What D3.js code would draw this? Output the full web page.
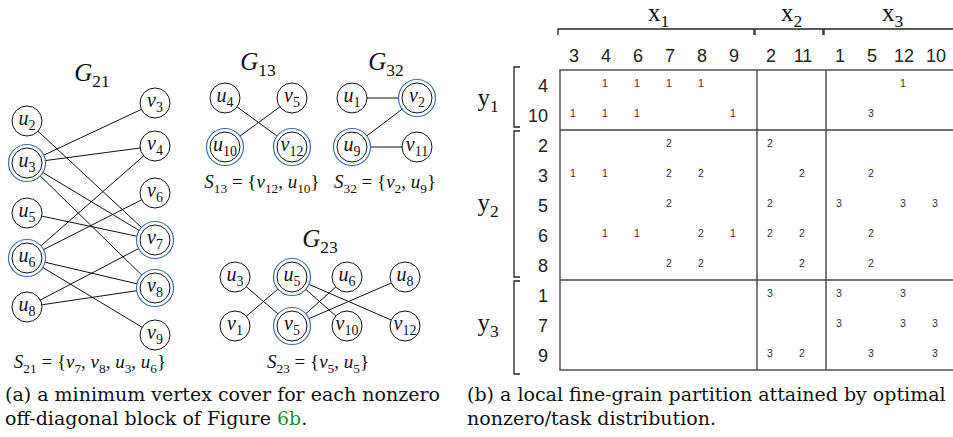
<!DOCTYPE html>
<html>
<head>
<meta charset="utf-8">
<script src="https://cdn.jsdelivr.net/npm/d3@7"></script>
<style>
  body { margin: 0; background: #fff; }
  svg { display: block; }
</style>
</head>
<body>
<svg id="fig" width="953" height="437"></svg>
<script>
// ---- partitioned matrix: row blocks y1..y3, column blocks x1..x3 ----
const rowBlockNames = ['1', '2', '3'];
const rowsY1 = [4, 10];
const rowsY2 = [2, 3, 5, 6, 8];
const rowsY3 = [1, 7, 9];
const colBlockNames = ['1', '2', '3'];
const colsX1 = [3, 4, 6, 7, 8, 9];
const colsX2 = [2, 11];
const colsX3 = [1, 5, 12, 10];

// nonzeros as [row, column, part that owns it]
const nonzeros = [
  [4, 4, 1], [4, 6, 1], [4, 7, 1], [4, 8, 1], [4, 12, 1],
  [10, 3, 1], [10, 4, 1], [10, 6, 1], [10, 9, 1], [10, 5, 3],
  [2, 7, 2], [2, 2, 2],
  [3, 3, 1], [3, 4, 1], [3, 7, 2], [3, 8, 2], [3, 11, 2], [3, 5, 2],
  [5, 7, 2], [5, 2, 2], [5, 1, 3], [5, 12, 3], [5, 10, 3],
  [6, 4, 1], [6, 6, 1], [6, 8, 2], [6, 9, 1], [6, 2, 2], [6, 11, 2], [6, 5, 2],
  [8, 7, 2], [8, 8, 2], [8, 11, 2], [8, 5, 2],
  [1, 2, 3], [1, 1, 3], [1, 12, 3],
  [7, 1, 3], [7, 12, 3], [7, 10, 3],
  [9, 2, 3], [9, 11, 2], [9, 5, 3], [9, 10, 3]
];

// off-diagonal blocks (row block, column block) and their minimum vertex covers
const graphBlocks = ['21', '13', '32', '23'];
const cover21 = ['v7', 'v8', 'u3', 'u6'];
const cover13 = ['v12', 'u10'];
const cover32 = ['v2', 'u9'];
const cover23 = ['v5', 'u5'];

const captionA = ['(a) a minimum vertex cover for each nonzero', 'off-diagonal block of Figure '];
const captionRef = '6b';
const captionB = ['(b) a local fine-grain partition attained by optimal', 'nonzero/task distribution.'];

// ---------------------------------------------------------------
const svg = d3.select('#fig');
const SERIF = "'Liberation Serif', 'DejaVu Serif', serif";
const CAPTION_FONT = "'DejaVu Serif', serif";
const SANS = "'Liberation Sans', Arial, sans-serif";
const BLUE = '#3d6fa6';

// small TeX-like writer: letters italic (optional), "_{..}" subscripts
function mathText(g, x, y, src, size, opts = {}) {
  const italic = opts.italic !== false;
  const t = g.append('text')
    .attr('x', x).attr('y', y)
    .attr('text-anchor', opts.anchor || 'middle')
    .style('font-family', SERIF)
    .style('font-size', size + 'px')
    .attr('fill', opts.fill || '#111');
  const runs = [];
  for (let i = 0; i < src.length; i++) {
    const c = src[i];
    if (c === '_' && src[i + 1] === '{') {
      const j = src.indexOf('}', i);
      runs.push({ t: src.slice(i + 2, j), sub: true });
      i = j;
    } else if (/[A-Za-z]/.test(c)) {
      runs.push({ t: c, it: italic });
    } else {
      runs.push({ t: c });
    }
  }
  let shifted = 0;
  const subDrop = size * 0.25;
  runs.forEach(r => {
    const s = t.append('tspan').text(r.t);
    if (r.sub) {
      s.attr('dy', subDrop - shifted).style('font-size', (size * 0.7) + 'px');
      shifted = subDrop;
    } else {
      if (shifted) s.attr('dy', -shifted);
      shifted = 0;
      if (r.it) s.style('font-style', 'italic');
    }
  });
  return t;
}

// ================= matrix (right) =================
const rowSets = [rowsY1, rowsY2, rowsY3];
const colSets = [colsX1, colsX2, colsX3];
const rowH = 30, colW = 32;
const mTop = 70, mLeft = 560;

let yCursor = mTop;
const rowBlocks = rowSets.map((rows, k) => {
  const b = { name: rowBlockNames[k], rows, y0: yCursor, y1: yCursor + rows.length * rowH };
  b.scale = d3.scaleBand().domain(rows).range([b.y0, b.y1]);
  yCursor = b.y1;
  return b;
});
let xCursor = mLeft;
const colBlocks = colSets.map((cols, k) => {
  const b = { name: colBlockNames[k], cols, x0: xCursor, x1: xCursor + cols.length * colW + 5 };
  b.scale = d3.scaleBand().domain(cols).range([b.x0 - 2, b.x0 - 2 + cols.length * colW]);
  xCursor = b.x1;
  return b;
});
const rowY = r => { const b = rowBlocks.find(b => b.rows.includes(r)); return b.scale(r) + b.scale.bandwidth() / 2; };
const colX = c => { const b = colBlocks.find(b => b.cols.includes(c)); return b.scale(c) + b.scale.bandwidth() / 2; };
const mBottom = rowBlocks[rowBlocks.length - 1].y1;
const mRight = colBlocks[colBlocks.length - 1].x1;

const mat = svg.append('g');
const lineCol = '#444';

// frame and block dividers
mat.append('rect')
  .attr('x', mLeft).attr('y', mTop)
  .attr('width', mRight - mLeft).attr('height', mBottom - mTop)
  .attr('fill', 'none').attr('stroke', lineCol).attr('stroke-width', 1.4);
rowBlocks.slice(1).forEach(b => mat.append('line')
  .attr('x1', mLeft).attr('x2', mRight).attr('y1', b.y0).attr('y2', b.y0)
  .attr('stroke', lineCol).attr('stroke-width', 1.4));
colBlocks.slice(1).forEach(b => mat.append('line')
  .attr('x1', b.x0).attr('x2', b.x0).attr('y1', mTop).attr('y2', mBottom)
  .attr('stroke', lineCol).attr('stroke-width', 1.4));

// column headers
colBlocks.forEach(b => {
  mat.selectAll(null).data(b.cols).join('text')
    .attr('x', c => colX(c)).attr('y', 62)
    .attr('text-anchor', 'middle')
    .style('font-family', SANS).style('font-size', '18px')
    .attr('fill', '#222')
    .text(c => c);
  // top brackets and block names
  const bx0 = b.x0 - 2, bx1 = b.x1 - 3;
  mat.append('path')
    .attr('d', `M${bx0},35V29H${bx1}V35`)
    .attr('fill', 'none').attr('stroke', '#222').attr('stroke-width', 1.3);
  mathText(mat, (b.x0 + b.x1) / 2, 21, 'x_{' + b.name + '}', 25, { italic: false });
});

// row headers
const lastRB = rowBlocks.length - 1;
rowBlocks.forEach((b, k) => {
  mat.selectAll(null).data(b.rows).join('text')
    .attr('x', 548).attr('y', r => rowY(r) + 6.5)
    .attr('text-anchor', 'end')
    .style('font-family', SANS).style('font-size', '18px')
    .attr('fill', '#222')
    .text(r => r);
  const top = k === 0 ? b.y0 - 3 : b.y0 + 1;
  const bot = k === lastRB ? b.y1 + 4 : b.y1 - 3;
  mat.append('path')
    .attr('d', `M520,${top}H514V${bot}H520`)
    .attr('fill', 'none').attr('stroke', '#222').attr('stroke-width', 1.3);
  mathText(mat, 488, (b.y0 + b.y1) / 2 + 6, 'y_{' + b.name + '}', 25, { italic: false });
});

// part numbers of nonzeros
mat.selectAll('text.nz').data(nonzeros).join('text')
  .attr('class', 'nz')
  .attr('x', d => colX(d[1]) - 1).attr('y', d => rowY(d[0]) + 2)
  .attr('text-anchor', 'middle')
  .style('font-family', SANS).style('font-size', '10.5px')
  .attr('fill', '#333')
  .text(d => d[2]);

// ================= bipartite graphs (left) =================
// node placement for each block graph
const layouts = {
  '21': {
    title: [92, 81], setLabel: [90, 368],
    pos: id => {
      const left = { u2: 121, u3: 163, u5: 213, u6: 258, u8: 307 };
      const right = { v3: 103, v4: 146, v6: 193, v7: 240, v8: 288, v9: 335 };
      return id in left ? [27, left[id]] : [155, right[id]];
    }
  },
  '13': {
    title: [258, 70], setLabel: [262, 188],
    pos: id => ({ u4: [225, 98], v5: [292, 98], u10: [225, 147], v12: [292, 147] })[id]
  },
  '32': {
    title: [386, 70], setLabel: [385, 188],
    pos: id => ({ u1: [352, 98], v2: [417, 98], u9: [352, 147], v11: [417, 147] })[id]
  },
  '23': {
    title: [320, 247], setLabel: [318, 368],
    pos: id => {
      const top = { u3: 235, u5: 292, u6: 347, u8: 405 };
      const bot = { v1: 235, v5: 292, v10: 347, v12: 405 };
      return id in top ? [top[id], 277] : [bot[id], 326];
    }
  }
};
const covers = { '21': cover21, '13': cover13, '32': cover32, '23': cover23 };

const gg = svg.append('g');
const R = 15, RING = 18.5;

graphBlocks.forEach(key => {
  const rb = +key[0] - 1, cb = +key[1] - 1;
  const rows = rowSets[rb], cols = colSets[cb];
  const edges = nonzeros.filter(d => rows.includes(d[0]) && cols.includes(d[1]));
  const ids = new Set();
  edges.forEach(d => { ids.add('u' + d[0]); ids.add('v' + d[1]); });
  const L = layouts[key];
  const cover = covers[key];
  const nodes = [...ids].map(id => ({ id, p: L.pos(id) }));
  const g = gg.append('g');

  g.selectAll('line').data(edges).join('line')
    .attr('x1', d => L.pos('u' + d[0])[0]).attr('y1', d => L.pos('u' + d[0])[1])
    .attr('x2', d => L.pos('v' + d[1])[0]).attr('y2', d => L.pos('v' + d[1])[1])
    .attr('stroke', '#111').attr('stroke-width', 1);

  g.selectAll('circle.ring').data(nodes.filter(n => cover.includes(n.id))).join('circle')
    .attr('class', 'ring')
    .attr('cx', d => d.p[0]).attr('cy', d => d.p[1]).attr('r', RING)
    .attr('fill', '#fff').attr('stroke', BLUE).attr('stroke-width', 1.2);
  g.selectAll('circle.node').data(nodes).join('circle')
    .attr('class', 'node')
    .attr('cx', d => d.p[0]).attr('cy', d => d.p[1]).attr('r', R)
    .attr('fill', '#fff').attr('stroke', '#111').attr('stroke-width', 1);
  nodes.forEach(n => {
    mathText(g, n.p[0], n.p[1] + 4, n.id[0] + '_{' + n.id.slice(1) + '}', 20);
  });

  mathText(g, L.title[0], L.title[1], 'G_{' + key + '}', 25);
  const setSrc = 'S_{' + key + '} = {' +
    cover.map(id => id[0] + '_{' + id.slice(1) + '}').join(', ') + '}';
  mathText(g, L.setLabel[0], L.setLabel[1], setSrc, 19);
});

// ================= captions =================
const cap = svg.append('g')
  .style('font-family', CAPTION_FONT).style('font-size', '19px').attr('fill', '#111');
cap.append('text').attr('x', 5).attr('y', 401).text(captionA[0]);
const a2 = cap.append('text').attr('x', 5).attr('y', 425);
a2.append('tspan').text(captionA[1]);
a2.append('tspan').attr('fill', '#1f8f2a').text(captionRef);
a2.append('tspan').text('.');
cap.append('text').attr('x', 467).attr('y', 401).text(captionB[0]);
cap.append('text').attr('x', 467).attr('y', 425).text(captionB[1]);
</script>
</body>
</html>
